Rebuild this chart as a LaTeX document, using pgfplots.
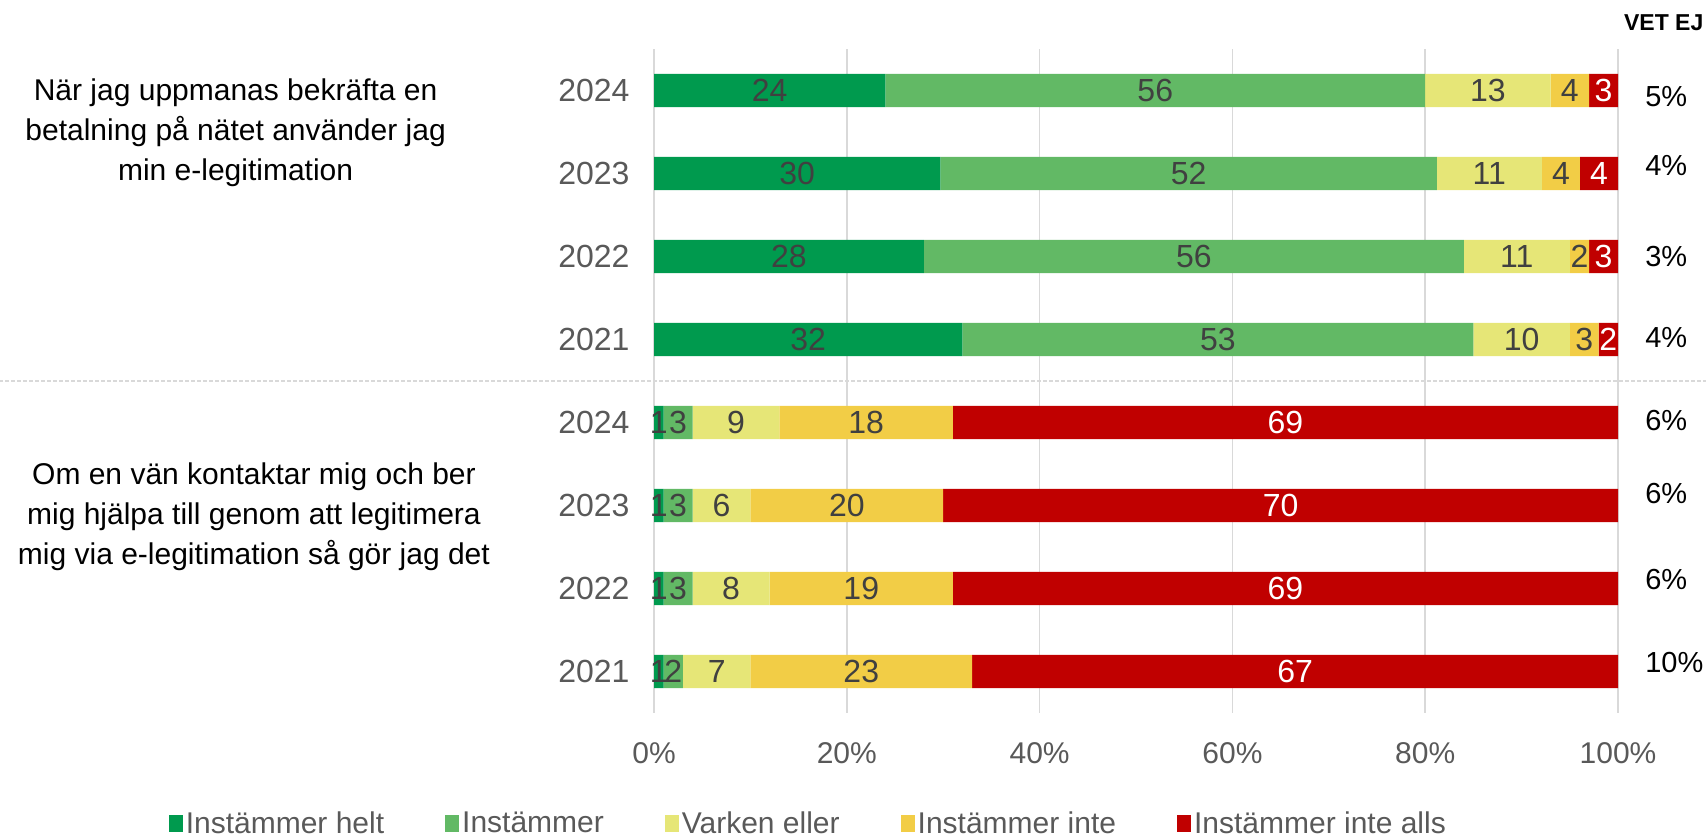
\documentclass[border=0pt]{standalone}
\usepackage{pgfplots}
\pgfplotsset{compat=1.18}
\usepackage{pgfplotstable}
\usepackage{fontspec}
\setmainfont{Liberation Sans}
\definecolor{c1}{RGB}{0,154,78}
\definecolor{c2}{RGB}{98,185,101}
\definecolor{c3}{RGB}{230,230,119}
\definecolor{c4}{RGB}{242,205,70}
\definecolor{c5}{RGB}{192,0,0}
\definecolor{tgray}{RGB}{89,89,89}
\definecolor{dgray}{RGB}{64,64,64}
\definecolor{gridc}{RGB}{217,217,217}

% bar widths (normalised to 100 per row)
\pgfplotstableread{
y helt inst varken inte alls
7 24 56 13 4 3
6 29.7 51.5 10.9 3.95 3.95
5 28 56 11 2 3
4 32 53 10 3 2
3 1 3 9 18 69
2 1 3 6 20 70
1 1 3 8 19 69
0 1 2 7 23 67
}\bars

% labels shown in segments (centre of each segment)
\pgfplotstableread{
x y lab
12 7 24
52 7 56
86.5 7 13
95 7 4
14.85 6 30
55.45 6 52
86.65 6 11
94.08 6 4
14 5 28
56 5 56
89.5 5 11
96 5 2
16 4 32
58.5 4 53
90 4 10
96.5 4 3
0.5 3 1
2.5 3 3
8.5 3 9
22 3 18
0.5 2 1
2.5 2 3
7 2 6
20 2 20
0.5 1 1
2.5 1 3
8 1 8
21.5 1 19
0.5 0 1
2 0 2
6.5 0 7
21.5 0 23
}\darklabels

\pgfplotstableread{
x y lab
98.5 7 3
98.03 6 4
98.5 5 3
99 4 2
65.5 3 69
65 2 70
65.5 1 69
66.5 0 67
}\whitelabels

% "Vet ej" column
\pgfplotstableread{
x y lab
102.1 6.93 5
102.1 6.09 4
102.1 5.00 3
102.1 4.02 4
102.1 3.02 6
102.1 2.15 6
102.1 1.11 6
102.1 0.11 10
}\vetej

\pgfplotsset{base/.style={
  width=482pt, height=332pt, scale only axis,
  xmin=0, xmax=100, ymin=-0.5, ymax=7.5,
  at={(327pt,62.5pt)}, anchor=south west,
  clip=false,
}}

\begin{document}
\begin{tikzpicture}
\path[use as bounding box] (0,0) rectangle (853pt,419pt);
\begin{axis}[base,
  xbar stacked, bar width=0.4,
  axis line style={draw=none},
  major tick length=0pt,
  xmajorgrids, grid style={gridc, line width=0.75pt},
  xtick={0,20,40,60,80,100},
  xticklabels={0\%,20\%,40\%,60\%,80\%,100\%},
  xticklabel style={font=\fontsize{15}{15}\selectfont, text=tgray, yshift=-11pt},
  ytick={0,1,2,3,4,5,6,7},
  yticklabels={2021,2022,2023,2024,2021,2022,2023,2024},
  yticklabel style={font=\fontsize{16}{16}\selectfont, text=tgray, xshift=-8.7pt},
  legend columns=5,
  legend style={at={(-0.51,-0.167)}, anchor=west, draw=none, fill=none,
    font=\fontsize{15}{15}\selectfont, text=tgray,
    nodes={inner xsep=1.5pt},
    /tikz/every even column/.append style={column sep=29pt}},
  legend image code/.code={\fill[#1,draw=none] (0pt,-4.3pt) rectangle (7pt,4.3pt);},
]
\addplot[fill=c1, draw=none] table[x=helt, y=y]{\bars};
\addplot[fill=c2, draw=none] table[x=inst, y=y]{\bars};
\addplot[fill=c3, draw=none] table[x=varken, y=y]{\bars};
\addplot[fill=c4, draw=none] table[x=inte, y=y]{\bars};
\addplot[fill=c5, draw=none] table[x=alls, y=y]{\bars};
\legend{Instämmer helt, Instämmer, Varken eller, Instämmer inte, Instämmer inte alls}
\end{axis}

\begin{axis}[base, hide axis]
\draw[gridc, line width=0.6pt, dash pattern=on 2pt off 1pt] (axis cs:-67.9,3.5) -- (axis cs:109.2,3.5);
\addplot[only marks, mark=none, point meta=explicit symbolic,
  nodes near coords, nodes near coords style={anchor=center, font=\fontsize{16}{16}\selectfont, text=dgray}]
  table[x=x, y=y, meta=lab]{\darklabels};
\addplot[only marks, mark=none, point meta=explicit symbolic,
  nodes near coords, nodes near coords style={anchor=center, font=\fontsize{16}{16}\selectfont, text=white}]
  table[x=x, y=y, meta=lab]{\whitelabels};
\addplot[only marks, mark=none, point meta=explicit symbolic,
  nodes near coords={\pgfplotspointmeta\%}, nodes near coords style={anchor=west, font=\fontsize{14.5}{14.5}\selectfont, text=black}]
  table[x=x, y=y, meta=lab]{\vetej};
\node[anchor=east, inner xsep=1pt, font=\bfseries\fontsize{11.5}{11.5}\selectfont] at (axis cs:109.1,7.815) {VET EJ};
\node[align=center, font=\fontsize{15}{20}\selectfont] at (axis cs:-43.4,6.49)
  {När jag uppmanas bekräfta en\\betalning på nätet använder jag\\min e-legitimation};
\node[align=center, font=\fontsize{15}{20}\selectfont] at (axis cs:-41.5,1.87)
  {Om en vän kontaktar mig och ber\\mig hjälpa till genom att legitimera\\mig via e-legitimation så gör jag det};
\end{axis}
\end{tikzpicture}
\end{document}
